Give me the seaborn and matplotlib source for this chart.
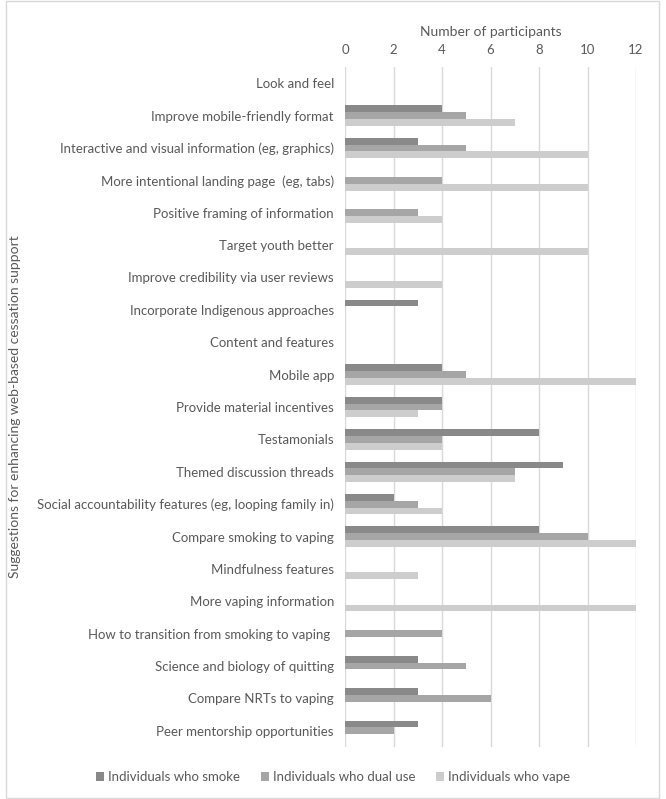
import pandas as pd
import seaborn as sns
import matplotlib.pyplot as plt
from matplotlib.patches import Rectangle

categories = [
    "Look and feel",
    "Improve mobile-friendly format",
    "Interactive and visual information (eg, graphics)",
    "More intentional landing page  (eg, tabs)",
    "Positive framing of information",
    "Target youth better",
    "Improve credibility via user reviews",
    "Incorporate Indigenous approaches",
    "Content and features",
    "Mobile app",
    "Provide material incentives",
    "Testamonials",
    "Themed discussion threads",
    "Social accountability features (eg, looping family in)",
    "Compare smoking to vaping",
    "Mindfulness features",
    "More vaping information",
    "How to transition from smoking to vaping ",
    "Science and biology of quitting",
    "Compare NRTs to vaping",
    "Peer mentorship opportunities",
]
smoke = [0, 4, 3, 0, 0, 0, 0, 3, 0, 4, 4, 8, 9, 2, 8, 0, 0, 0, 3, 3, 3]
dual_use = [0, 5, 5, 4, 3, 0, 0, 0, 0, 5, 4, 4, 7, 3, 10, 0, 0, 4, 5, 6, 2]
vape = [0, 7, 10, 10, 4, 10, 4, 0, 0, 12, 3, 4, 7, 4, 12, 3, 12, 0, 0, 0, 0]
groups = ["Individuals who smoke", "Individuals who dual use", "Individuals who vape"]
colors = ["#898989", "#a6a6a6", "#cdcdcd"]

rows = []
for g, vals in zip(groups, [smoke, dual_use, vape]):
    for c, v in zip(categories, vals):
        rows.append({"category": c, "group": g, "count": v})
df = pd.DataFrame(rows)

sns.set_style("white")
plt.rcParams["font.family"] = ["Lato", "DejaVu Sans"]
text_color = "#595959"

fig = plt.figure(figsize=(6.66, 7.99), dpi=100)
ax = fig.add_axes([345 / 666, 1 - 747 / 799, 291 / 666, 680 / 799])

sns.barplot(data=df, x="count", y="category", hue="group", order=categories,
            hue_order=groups, palette=colors, orient="h", width=0.63, gap=0,
            saturation=1, errorbar=None, linewidth=0, ax=ax, legend=True)

ax.set_xlim(0, 12)
ax.set_xticks(range(0, 13, 2))
ax.xaxis.tick_top()
ax.xaxis.set_label_position("top")
ax.grid(axis="x", color="#d9d9d9", linewidth=1)
ax.set_axisbelow(True)
for s in ax.spines.values():
    s.set_visible(False)
ax.tick_params(axis="both", length=0, colors=text_color, labelsize=9.5)
ax.tick_params(axis="x", pad=8)
ax.tick_params(axis="y", pad=8)
ax.set_xlabel("Number of participants", color=text_color, fontsize=10, labelpad=6)
ax.set_ylabel("Suggestions for enhancing web-based cessation support",
              color=text_color, fontsize=10)
ax.yaxis.set_label_coords(-1.113, 0.5)

handles, labels = ax.get_legend_handles_labels()
ax.get_legend().remove()
leg = fig.legend(handles, labels, loc="center", bbox_to_anchor=(0.5, 1 - 777 / 799),
                 ncol=3, frameon=False, handlelength=0.6, handleheight=0.6,
                 handletextpad=0.3, columnspacing=1.6, fontsize=9.5)
for t in leg.get_texts():
    t.set_color(text_color)

fig.patches.append(Rectangle((6 / 666, 1 / 799), 653 / 666, 797 / 799,
                             transform=fig.transFigure, fill=False,
                             edgecolor="#d9d9d9", linewidth=1))

fig.savefig("out.png", dpi=100)
